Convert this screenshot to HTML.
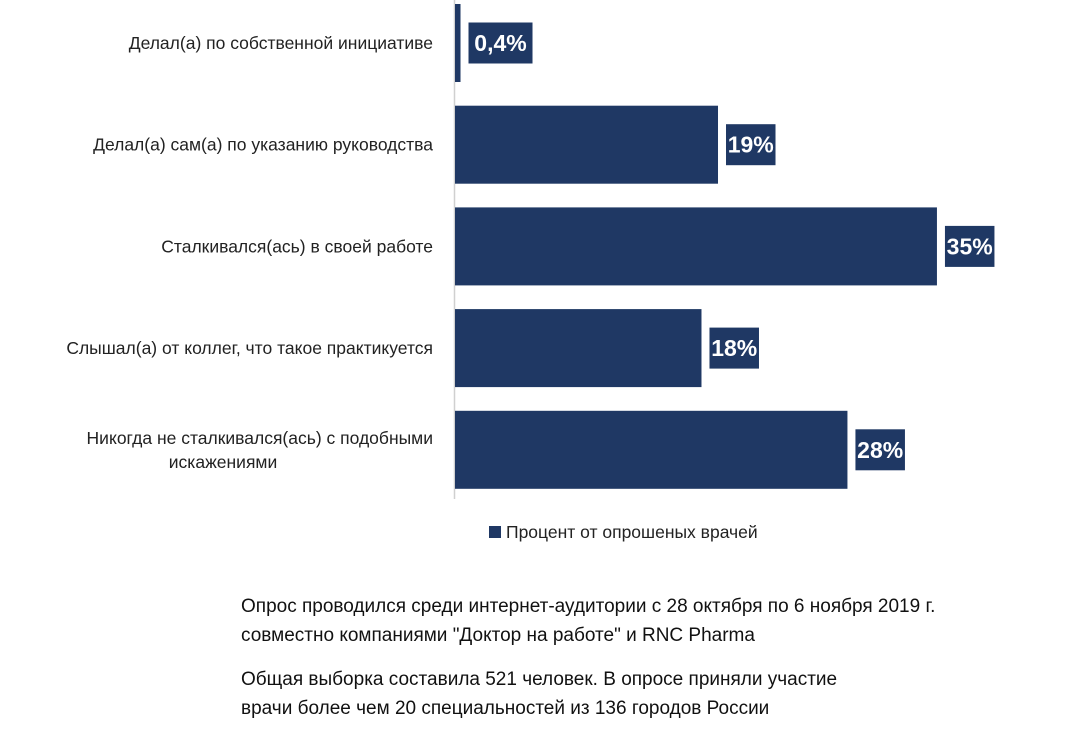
<!DOCTYPE html>
<html><head><meta charset="utf-8"><style>
body{margin:0;background:#fff;}
svg{display:block;font-family:"Liberation Sans",Calibri,sans-serif;}
</style></head><body>
<svg id="chart" width="1084" height="733">
<line x1="454.5" y1="0" x2="454.5" y2="499" stroke="#d0d0d0" stroke-width="1.5"/>
<g id="bars"></g>
<g>
<rect x="489" y="526" width="12" height="12" fill="#1f3864"/>
<text x="506" y="538" font-size="17.5" fill="#222">Процент от опрошеных врачей</text>
</g>
<g font-size="19" fill="#111">
<text x="241" y="612">Опрос проводился среди интернет-аудитории  с 28 октября по 6 ноября 2019 г.</text>
<text x="241" y="641">совместно компаниями "Доктор на работе" и RNC Pharma</text>
<text x="241" y="685">Общая выборка составила 521 человек. В опросе приняли участие</text>
<text x="241" y="714">врачи более чем 20 специальностей из 136 городов России</text>
</g>
</svg>
<script>
const categories = [["Делал(а) по собственной инициативе"],["Делал(а) сам(а) по указанию руководства"],["Сталкивался(ась) в своей работе"],["Слышал(а) от коллег, что такое практикуется"],["Никогда не сталкивался(ась) с подобными","искажениями"]];
const values = [0.4, 19.1, 35.0, 17.9, 28.5];
const valueLabels = ["0,4%","19%","35%","18%","28%"];
const NS="http://www.w3.org/2000/svg";
const x0=455, pxPer=13.77, rowTop=4, pitch=101.7, barH=78;
const xScale=v=>x0+v*pxPer;
const yScale=i=>rowTop+i*pitch;
const g=document.getElementById('bars');
function mk(t,a){const e=document.createElementNS(NS,t);for(const k in a)e.setAttribute(k,a[k]);return e;}
values.forEach((v,i)=>{
  const y=yScale(i), xe=xScale(v);
  const r=mk('rect',{x:x0,y:y,width:xe-x0,height:barH,fill:'#1f3864'});
  
  
  g.appendChild(r);
  const lbl=valueLabels[i];
  const w=lbl.length*14.5+6;
  const cy=y+barH/2;
  const bx=mk('rect',{x:xe+8,y:cy-20.5,width:w,height:41,fill:'#1f3864'});
  
  
  g.appendChild(bx);
  const t=mk('text',{x:xe+8+w/2,y:cy+8,'text-anchor':'middle','font-size':'23','font-weight':'bold',fill:'#fff'});
  t.textContent=lbl;
  
  
  g.appendChild(t);
  const lines=categories[i];
  lines.forEach((ln,j)=>{
    const ty=cy+6-(lines.length-1)*12+j*24;
    const ct=mk('text',{x:lines.length>1&&j>0?223:433,y:ty,'text-anchor':lines.length>1&&j>0?'middle':'end','font-size':'17.5',fill:'#222'});
    ct.textContent=ln;
    
    
    g.appendChild(ct);
  });
});
</script>
</body></html>
